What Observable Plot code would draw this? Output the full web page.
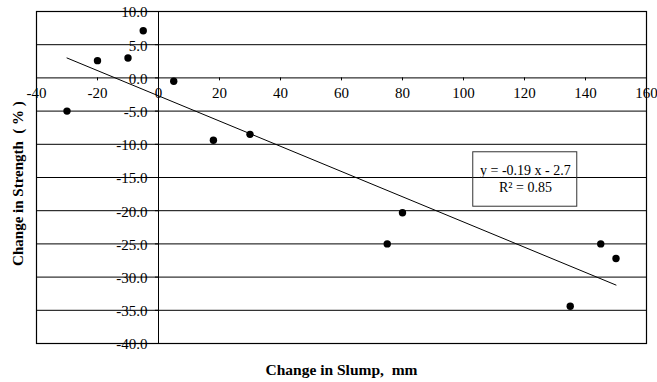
<!DOCTYPE html>
<html>
<head>
<meta charset="utf-8">
<script src="https://cdn.jsdelivr.net/npm/d3@7"></script>
<script src="https://cdn.jsdelivr.net/npm/@observablehq/plot@0.6"></script>
<style>
  html, body { margin: 0; padding: 0; background: #fff; }
</style>
</head>
<body>
<div id="chart"></div>
<script>
// Data
const slump    = [-30, -20, -10, -5, 5, 18, 30, 75, 80, 135, 145, 150];
const strength = [-5.0, 2.6, 3.0, 7.1, -0.5, -9.4, -8.5, -25.0, -20.3, -34.4, -25.0, -27.2];

const xTicks = [-40, -20, 0, 20, 40, 60, 80, 100, 120, 140, 160];
const yTicks = [10, 5, 0, -5, -10, -15, -20, -25, -30, -35, -40];

const slope = -0.19;
const intercept = -2.7;
const eqLabel = "y = -0.19 x - 2.7";
const r2Label = "R\u00B2 = 0.85";

const xTitle = "Change in Slump,  mm";
const yTitle = "Change in Strength  ( % )";

const points = slump.map((x, i) => ({x, y: strength[i]}));
const xExt = d3.extent(slump);
const trend = xExt.map(x => ({x, y: slope * x + intercept}));

// annotation box (data coordinates)
const box = [{x1: 103.2, x2: 137.3, y1: -11.2, y2: -19.4}];
const boxCx = 120.3;

const FONT = "Liberation Serif";

const chart = Plot.plot({
  width: 657,
  height: 382,
  marginLeft: 36,
  marginRight: 11,
  marginTop: 11,
  marginBottom: 39,
  style: {fontFamily: FONT, background: "#fff", color: "#000"},
  x: {domain: [-40, 160], axis: null},
  y: {domain: [-40, 10], axis: null},
  marks: [
    Plot.ruleY(yTicks, {stroke: "#000", strokeWidth: 1}),
    Plot.ruleX([0], {stroke: "#000", strokeWidth: 1}),
    Plot.frame({stroke: "#000", strokeWidth: 1.2}),
    // x ticks along y = 0
    Plot.ruleX(xTicks, {x: d => d, y1: 0, y2: -0.45, stroke: "#000"}),
    // y ticks along x = 0
    Plot.ruleY(yTicks, {y: d => d, x1: -1, x2: 0, stroke: "#000"}),
    // x tick labels
    Plot.text(xTicks, {x: d => d, y: () => 0, text: d => String(d), dy: 15, textAnchor: "middle", fontFamily: FONT, fontSize: 15, fill: "#000"}),
    // y tick labels
    Plot.text(yTicks, {x: () => 0, y: d => d, text: d => d.toFixed(1), dx: -11, dy: 1, textAnchor: "end", fontFamily: FONT, fontSize: 15, fill: "#000"}),
    // trend line
    Plot.line(trend, {x: "x", y: "y", stroke: "#000", strokeWidth: 1}),
    // data points
    Plot.dot(points, {x: "x", y: "y", r: 3.7, fill: "#000", stroke: "none"}),
    // equation box
    Plot.rect(box, {x1: "x1", x2: "x2", y1: "y1", y2: "y2", fill: "none", stroke: "#333", strokeWidth: 1}),
    Plot.text([eqLabel], {x: () => boxCx, y: () => -13.95, text: d => d, fontFamily: FONT, fontSize: 14, fill: "#000"}),
    Plot.text([r2Label], {x: () => boxCx, y: () => -16.5, text: d => d, fontFamily: FONT, fontSize: 14, fill: "#000"}),
    // axis titles
    Plot.text([xTitle], {frameAnchor: "bottom", text: d => d, dy: 27, lineAnchor: "middle", textAnchor: "middle", fontWeight: "bold", fontFamily: FONT, fontSize: 15.5, fill: "#000"}),
    Plot.text([yTitle], {frameAnchor: "left", text: d => d, dx: -18, dy: 6, rotate: -90, lineAnchor: "middle", textAnchor: "middle", fontWeight: "bold", fontFamily: FONT, fontSize: 15, fill: "#000"})
  ]
});
document.getElementById("chart").appendChild(chart);
</script>
</body>
</html>
